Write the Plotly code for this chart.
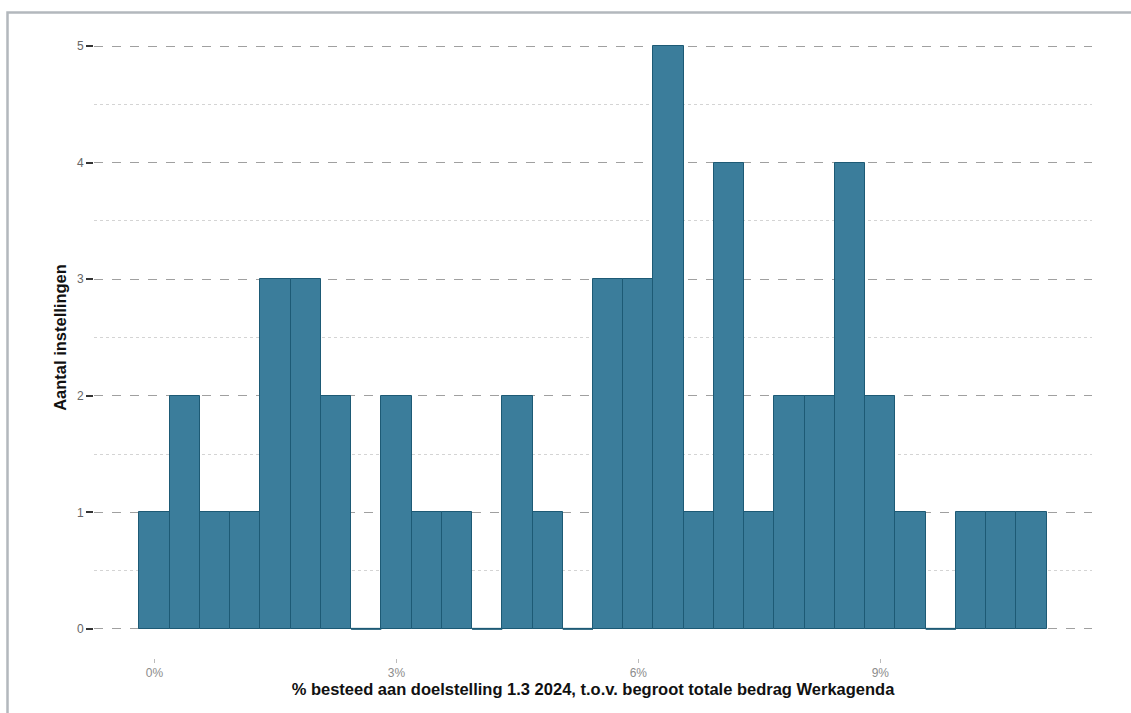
import plotly.graph_objects as go

# Data: histogram counts per bin (bin width 0.375 %-point, first bin centred on 0%)
bin_start = 0.0
bin_width = 0.375
counts = [1, 2, 1, 1, 3, 3, 2, 0, 2, 1, 1, 0, 2, 1, 0,
          3, 3, 5, 1, 4, 1, 2, 2, 4, 2, 1, 0, 1, 1, 1]
x_tickvals = [0, 3, 6, 9]
x_ticktext = ["0%", "3%", "6%", "9%"]
y_tickvals = [0, 1, 2, 3, 4, 5]

centers = [bin_start + i * bin_width for i in range(len(counts))]
y_minor = [v + 0.5 for v in y_tickvals[:-1]]

FILL = "#3b7d9b"
EDGE = "#1d5a75"
FONT = "Liberation Sans, Arial, sans-serif"

fig = go.Figure()
fig.add_trace(go.Bar(
    x=centers, y=counts, width=bin_width,
    marker=dict(color=FILL, line=dict(color=EDGE, width=1)),
    hoverinfo="x+y", showlegend=False,
))

# zero-count bins drawn as a flat outline on the baseline
zx, zy = [], []
for c, n in zip(centers, counts):
    if n == 0:
        zx += [c - bin_width / 2, c + bin_width / 2, None]
        zy += [0, 0, None]
fig.add_trace(go.Scatter(x=zx, y=zy, mode="lines",
                         line=dict(color=EDGE, width=2),
                         hoverinfo="skip", showlegend=False))

W, H = 1131, 713
L, R, T, B = 94, 39, 17, 55
pw, ph = W - L - R, H - T - B

fig.update_layout(
    width=W, height=H,
    margin=dict(l=L, r=R, t=T, b=B, autoexpand=False),
    plot_bgcolor="white", paper_bgcolor="white",
    font=dict(family=FONT, color="#333"),
    bargap=0,
    xaxis=dict(
        range=[-0.75, 11.625],
        tickvals=x_tickvals, ticktext=x_ticktext,
        showgrid=False, zeroline=False, showline=False,
        ticks="outside", ticklen=4, tickcolor="#bbbbbb", tickwidth=1,
        tickfont=dict(size=12, color="#8c8c8c", family=FONT),
        title=dict(text="<b>% besteed aan doelstelling 1.3 2024, t.o.v. begroot totale bedrag Werkagenda</b>",
                   font=dict(size=16.5, color="#111", family=FONT), standoff=3),
    ),
    yaxis=dict(
        range=[-0.25, 5.25],
        tickvals=y_tickvals,
        showgrid=True, gridcolor="#a0a0a0", gridwidth=1, griddash="dash",
        zeroline=False, showline=False,
        ticks="outside", ticklen=7, tickcolor="#333333", tickwidth=1.5,
        tickfont=dict(size=12, color="#666666", family=FONT),
        minor=dict(tickmode="array", tickvals=y_minor, showgrid=True,
                   gridcolor="#d4d4d4", griddash="3px,3px", gridwidth=1, ticks=""),
        title=dict(text="<b>Aantal instellingen</b>",
                   font=dict(size=16.5, color="#111", family=FONT), standoff=6),
    ),
    shapes=[dict(
        type="rect", xref="paper", yref="paper", layer="below",
        x0=(7.5 - L) / pw, x1=(W + 10 - L) / pw,
        y0=-(H + 10 - (T + ph)) / ph, y1=1 + (T - 12.5) / ph,
        line=dict(color="#b3b8bd", width=2.5), fillcolor="rgba(0,0,0,0)",
    )],
)

fig.write_html("out.html", config={"displayModeBar": False},
               post_script="document.body.style.margin='0';document.body.style.overflow='hidden';")
